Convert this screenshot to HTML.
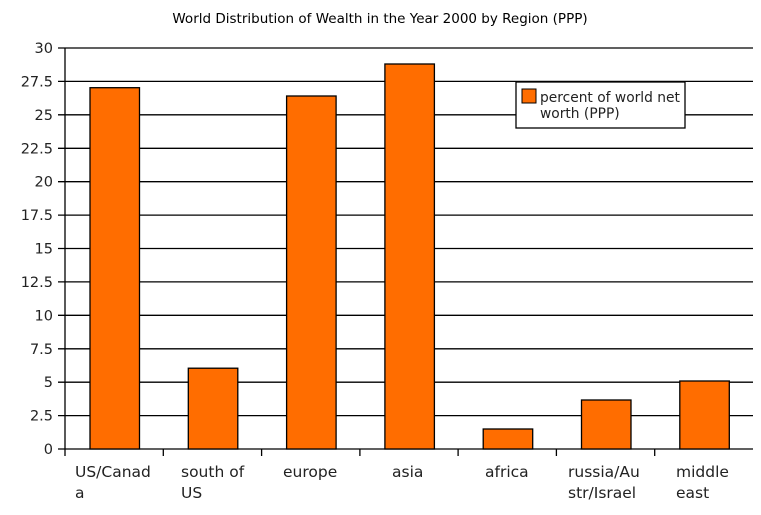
<!DOCTYPE html>
<html><head><style>body{margin:0;background:#fff}svg{display:block}</style></head><body>
<svg width="761" height="515" xmlns="http://www.w3.org/2000/svg" font-family="DejaVu Sans, Liberation Sans, sans-serif">
<rect width="761" height="515" fill="#fff"/>
<text x="380" y="23" font-size="13.5" text-anchor="middle">World Distribution of Wealth in the Year 2000 by Region (PPP)</text>
<g stroke="#000" stroke-width="1.3">
<line x1="58" y1="48" x2="753" y2="48"/><line x1="58" y1="81.4" x2="753" y2="81.4"/>
<line x1="58" y1="114.8" x2="753" y2="114.8"/><line x1="58" y1="148.3" x2="753" y2="148.3"/>
<line x1="58" y1="181.7" x2="753" y2="181.7"/><line x1="58" y1="215.1" x2="753" y2="215.1"/>
<line x1="58" y1="248.5" x2="753" y2="248.5"/><line x1="58" y1="281.9" x2="753" y2="281.9"/>
<line x1="58" y1="315.3" x2="753" y2="315.3"/><line x1="58" y1="348.8" x2="753" y2="348.8"/>
<line x1="58" y1="382.2" x2="753" y2="382.2"/><line x1="58" y1="415.6" x2="753" y2="415.6"/>
<line x1="58" y1="449" x2="753" y2="449"/>
<line x1="65" y1="48" x2="65" y2="456"/>
<line x1="163.3" y1="449" x2="163.3" y2="456"/><line x1="261.6" y1="449" x2="261.6" y2="456"/>
<line x1="359.9" y1="449" x2="359.9" y2="456"/><line x1="458.1" y1="449" x2="458.1" y2="456"/>
<line x1="556.4" y1="449" x2="556.4" y2="456"/><line x1="654.7" y1="449" x2="654.7" y2="456"/>
</g>
<g fill="#ff6d00" stroke="#000" stroke-width="1.3">
<rect x="90" y="87.7" width="49.5" height="361.3"/>
<rect x="188.3" y="368.2" width="49.5" height="80.8"/>
<rect x="286.6" y="96" width="49.5" height="353"/>
<rect x="384.9" y="64" width="49.5" height="385"/>
<rect x="483.2" y="429" width="49.5" height="20"/>
<rect x="581.5" y="400" width="49.5" height="49"/>
<rect x="679.8" y="381" width="49.5" height="68"/>
</g>
<g font-size="14.5" text-anchor="end" fill="#222">
<text x="53" y="53">30</text><text x="53" y="86.4">27.5</text><text x="53" y="119.8">25</text>
<text x="53" y="153.3">22.5</text><text x="53" y="186.7">20</text><text x="53" y="220.1">17.5</text>
<text x="53" y="253.5">15</text><text x="53" y="286.9">12.5</text><text x="53" y="320.3">10</text>
<text x="53" y="353.8">7.5</text><text x="53" y="387.2">5</text><text x="53" y="420.6">2.5</text>
<text x="53" y="454">0</text>
</g>
<g font-size="15.5" fill="#222">
<text x="75" y="477">US/Canad</text><text x="75" y="498">a</text>
<text x="181" y="477">south of</text><text x="181" y="498">US</text>
<text x="283" y="477">europe</text>
<text x="392" y="477">asia</text>
<text x="485" y="477">africa</text>
<text x="568" y="477">russia/Au</text><text x="568" y="498">str/Israel</text>
<text x="676" y="477">middle</text><text x="676" y="498">east</text>
</g>
<rect x="516" y="82" width="169" height="46" fill="#fff" stroke="#000" stroke-width="1.3"/>
<rect x="522" y="89" width="14" height="14" fill="#ff6d00" stroke="#000"/>
<text x="540" y="102" font-size="13.8" fill="#222">percent of world net</text>
<text x="540" y="118" font-size="13.8" fill="#222">worth (PPP)</text>
</svg>
</body></html>
